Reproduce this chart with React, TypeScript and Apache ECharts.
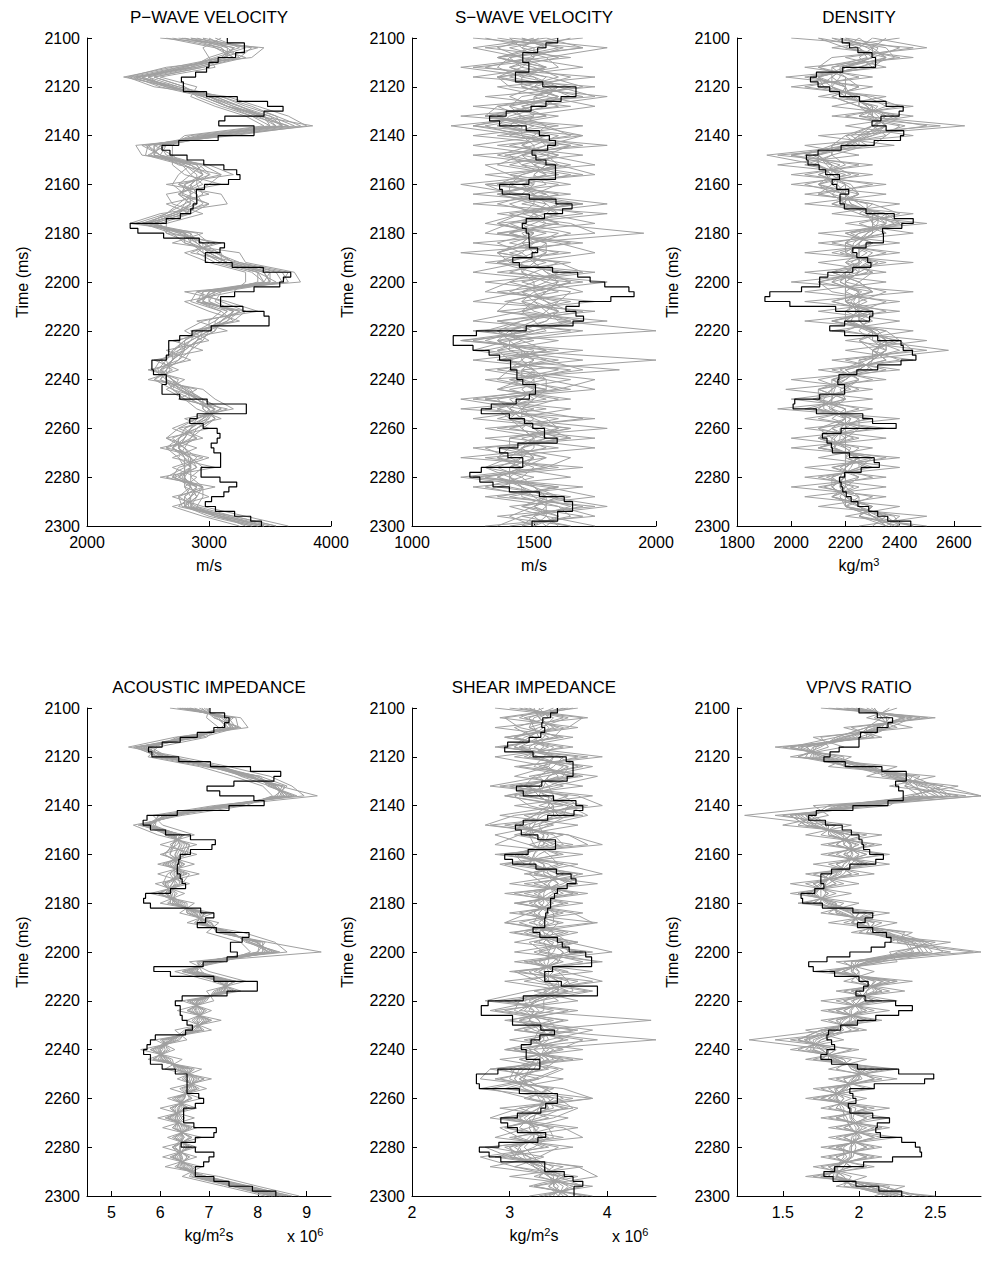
import React, { useEffect, useRef } from "react";
import * as echarts from "echarts";

// Sample times (ms): well logs every 2 ms, inversion realizations every 4 ms
const LOG_TIMES = Array.from({ length: 101 }, (_, i) => 2100 + 2 * i);
const SIM_TIMES = Array.from({ length: 51 }, (_, i) => 2100 + 4 * i);

// ---------- P-wave velocity (m/s) ----------
const VP_LOG = [
  3150, 3290, 3290, 3218, 3075, 3000, 2980, 2890, 2774, 2790,
  2790, 2980, 3232, 3480, 3607, 3451, 3130, 3080, 3369, 3369,
  3075, 2752, 2615, 2680, 2820, 2957, 3122, 3227, 3254, 3160,
  2963, 2897, 2900, 2900, 2870, 2850, 2765, 2650, 2354, 2417,
  2628, 2920, 3127, 3090, 2970, 2970, 3190, 3445, 3670, 3610,
  3580, 3369, 3210, 3095, 3095, 3278, 3451, 3492, 3492, 3018,
  2861, 2760, 2670, 2670, 2670, 2650, 2532, 2532, 2545, 2650,
  2650, 2615, 2615, 2760, 2985, 3306, 3306, 2903, 2842, 2952,
  3067, 3090, 3067, 3018, 3040, 3095, 3095, 3095, 2935, 2935,
  3090, 3227, 3163, 3122, 3021, 2970, 3053, 3210, 3342, 3430,
  3430,
];
const VP_SIMS = [
  [2780, 3210, 3120, 2760, 2420, 2650, 3050, 3260, 3420, 3650, 3050, 2480, 2600, 2920, 3010, 2800, 2780, 2900, 2700, 2450, 2760, 2950, 3080, 3200, 3500, 3450, 2950, 2900, 3250, 3150, 2950, 2800, 2720, 2650, 2580, 2700, 2820, 2950, 3100, 2950, 2800, 2760, 2700, 2800, 2900, 2720, 2850, 2800, 2870, 3150, 3500],
  [2650, 3050, 3200, 2900, 2380, 2600, 2950, 3150, 3500, 3700, 3100, 2600, 2520, 2800, 2900, 2900, 2950, 2800, 2650, 2400, 2850, 2850, 2950, 3100, 3400, 3550, 3050, 3000, 3150, 3050, 3050, 2900, 2850, 2750, 2650, 2550, 2700, 2850, 3000, 3050, 2900, 2850, 2800, 2900, 2800, 2650, 2950, 2900, 2800, 3050, 3400],
  [2950, 3300, 3050, 2800, 2500, 2750, 3100, 3300, 3550, 3600, 2950, 2500, 2480, 2780, 2850, 2750, 2900, 2950, 2800, 2550, 2700, 2800, 3050, 3250, 3550, 3600, 3100, 2900, 3300, 3200, 2900, 2800, 2700, 2650, 2680, 2600, 2750, 2950, 3100, 2900, 2850, 2750, 2650, 2750, 2800, 2800, 2850, 2750, 2780, 3200, 3550],
  [3000, 3150, 3250, 2950, 2550, 2800, 2950, 3150, 3400, 3550, 2900, 2600, 2650, 2950, 3100, 3000, 2850, 2750, 2650, 2500, 2900, 3000, 2900, 3050, 3350, 3450, 2900, 2850, 3100, 3000, 3000, 2950, 2850, 2800, 2600, 2700, 2800, 2950, 2950, 3050, 2950, 2850, 2700, 2850, 2950, 2850, 2950, 2950, 2900, 3050, 3350],
  [2850, 3400, 3100, 2700, 2300, 2700, 3000, 3200, 3400, 3850, 3100, 2450, 2600, 2850, 2750, 2700, 2800, 3000, 2850, 2600, 2650, 2850, 3050, 3200, 3600, 3650, 3000, 2950, 3250, 3100, 2950, 2750, 2800, 2600, 2550, 2650, 2700, 2800, 3050, 2900, 2750, 2650, 2800, 2850, 2850, 2800, 2800, 2850, 2750, 3100, 3450],
  [2700, 3100, 3150, 2850, 2450, 2700, 2950, 3150, 3450, 3500, 3050, 2650, 2500, 2850, 3000, 2900, 2750, 2850, 2700, 2450, 2800, 2950, 2950, 3100, 3400, 3400, 3100, 3050, 3200, 3150, 3000, 2850, 2700, 2700, 2650, 2650, 2850, 2900, 3000, 3000, 2800, 2900, 2750, 2800, 2850, 2700, 2900, 2850, 2850, 3100, 3300],
  [2900, 3200, 3100, 2800, 2400, 2750, 3050, 3250, 3500, 3600, 2950, 2550, 2550, 2900, 2950, 2850, 2900, 2900, 2800, 2550, 2750, 2900, 3000, 3150, 3450, 3500, 2950, 2950, 3200, 3100, 3050, 2900, 2800, 2700, 2600, 2700, 2750, 2900, 3050, 2950, 2850, 2800, 2750, 2850, 2900, 2750, 2900, 2800, 2800, 3100, 3450],
  [2800, 3100, 3200, 2900, 2500, 2650, 3000, 3150, 3350, 3650, 3000, 2550, 2700, 2800, 2950, 2800, 2850, 2800, 2750, 2500, 2850, 2900, 3000, 3150, 3500, 3500, 3050, 2900, 3150, 3050, 2900, 2850, 2750, 2700, 2650, 2600, 2800, 2900, 3050, 3000, 2900, 2750, 2750, 2800, 2800, 2800, 2850, 2900, 2850, 3050, 3400],
  [3050, 3250, 3000, 2850, 2450, 2700, 3000, 3250, 3450, 3550, 3000, 2600, 2550, 2900, 2950, 2850, 2750, 2850, 2750, 2500, 2800, 2850, 2950, 3150, 3450, 3500, 3000, 3000, 3200, 3100, 2950, 2900, 2800, 2700, 2600, 2700, 2800, 2850, 3000, 2950, 2850, 2800, 2700, 2850, 2850, 2750, 2950, 2850, 2800, 3150, 3450],
  [2850, 3150, 3150, 2850, 2400, 2700, 3000, 3200, 3450, 3600, 3000, 2550, 2550, 2850, 2950, 2850, 2850, 2850, 2750, 2500, 2800, 2900, 3000, 3150, 3450, 3500, 3000, 2950, 3200, 3100, 3000, 2850, 2780, 2700, 2620, 2650, 2770, 2900, 3040, 2980, 2850, 2800, 2750, 2830, 2850, 2780, 2900, 2850, 2830, 3100, 3450],
  [2600, 3450, 3350, 2650, 2330, 2550, 3150, 3400, 3650, 3800, 3200, 2400, 2450, 3000, 3200, 2650, 3100, 3150, 2600, 2350, 2950, 2700, 3250, 3300, 3700, 3750, 2800, 3150, 3400, 2900, 3150, 2700, 2950, 2550, 2750, 2500, 2950, 3050, 3200, 2800, 3000, 2650, 2900, 2700, 3050, 2600, 3050, 2700, 2950, 3300, 3650],
  [3100, 2950, 3000, 3050, 2600, 2900, 2850, 3050, 3300, 3450, 2800, 2700, 2700, 2700, 2800, 3100, 2650, 2700, 2950, 2650, 2650, 3100, 2800, 3000, 3300, 3300, 3200, 2800, 3000, 3250, 2850, 3000, 2650, 2850, 2500, 2800, 2650, 2800, 2900, 3100, 2750, 2950, 2600, 2950, 2700, 2900, 2800, 3000, 2700, 2950, 3250],
  [2750, 3350, 3250, 2750, 2350, 2650, 3100, 3350, 3550, 3750, 3150, 2500, 2600, 2750, 3100, 2750, 3000, 2650, 2850, 2450, 2700, 3050, 2850, 3250, 3650, 3600, 2900, 3100, 3300, 2950, 2800, 2950, 2750, 2600, 2700, 2550, 2900, 2750, 3150, 2900, 2700, 2900, 2650, 3000, 2750, 2700, 2950, 2750, 2900, 3200, 3550],
  [2950, 3050, 3300, 2950, 2550, 2800, 2900, 3100, 3350, 3500, 2850, 2650, 2600, 2950, 2850, 2950, 2750, 3000, 2700, 2550, 2800, 2800, 3100, 3100, 3400, 3450, 3050, 2900, 3100, 3200, 2900, 2800, 2800, 2750, 2550, 2750, 2700, 2950, 2950, 3050, 2900, 2700, 2800, 2750, 2850, 2850, 2850, 2900, 2800, 3000, 3350],
];

// ---------- S-wave velocity (m/s) ----------
const VS_LOG = [
  1597, 1549, 1515, 1454, 1454, 1479, 1479, 1424, 1424, 1536,
  1672, 1672, 1611, 1549, 1488, 1386, 1318, 1359, 1468, 1522,
  1563, 1588, 1556, 1492, 1508, 1549, 1588, 1588, 1588, 1479,
  1359, 1370, 1481, 1590, 1656, 1617, 1543, 1468, 1452, 1468,
  1479, 1481, 1481, 1515, 1492, 1413, 1440, 1576, 1679, 1730,
  1790, 1889, 1910, 1815, 1685, 1631, 1672, 1703, 1660, 1468,
  1264, 1169, 1169, 1250, 1316, 1359, 1404, 1404, 1430, 1430,
  1454, 1506, 1506, 1481, 1427, 1325, 1284, 1399, 1461, 1495,
  1543, 1543, 1595, 1434, 1359, 1393, 1454, 1454, 1284, 1237,
  1278, 1332, 1399, 1522, 1624, 1658, 1658, 1597, 1597, 1492,
  1492,
];
const VS_SIMS = [
  [1350, 1620, 1480, 1300, 1560, 1700, 1450, 1400, 1550, 1300, 1450, 1700, 1380, 1600, 1450, 1350, 1600, 1450, 1700, 1350, 1550, 1400, 1600, 1350, 1650, 1450, 1600, 1380, 1700, 1450, 1300, 1500, 1300, 1600, 1350, 1650, 1400, 1550, 1300, 1600, 1400, 1650, 1350, 1550, 1300, 1500, 1350, 1650, 1450, 1700, 1400],
  [1600, 1400, 1550, 1600, 1350, 1500, 1700, 1350, 1300, 1550, 1650, 1400, 1600, 1450, 1700, 1300, 1400, 1650, 1450, 1600, 1350, 1650, 1400, 1550, 1400, 1700, 1350, 1650, 1450, 1700, 1500, 1250, 1550, 1350, 1600, 1400, 1650, 1300, 1500, 1350, 1650, 1450, 1550, 1350, 1550, 1300, 1600, 1400, 1700, 1450, 1650],
  [1450, 1550, 1350, 1500, 1600, 1450, 1600, 1550, 1400, 1350, 1600, 1500, 1350, 1550, 1500, 1550, 1350, 1500, 1600, 1450, 1650, 1500, 1350, 1600, 1500, 1600, 1450, 1550, 1650, 1350, 1500, 1400, 1450, 1550, 1700, 1400, 1500, 1450, 1350, 1550, 1600, 1400, 1400, 1550, 1450, 1350, 1500, 1550, 1450, 1600, 1550],
  [1550, 1700, 1400, 1350, 1450, 1650, 1500, 1600, 1300, 1500, 1400, 1650, 1550, 1400, 1650, 1450, 1550, 1400, 1500, 1600, 1400, 1550, 1500, 1400, 1600, 1550, 1700, 1450, 1500, 1650, 1350, 1450, 1350, 1400, 1500, 1550, 1350, 1600, 1450, 1450, 1550, 1650, 1300, 1400, 1500, 1450, 1300, 1500, 1650, 1500, 1450],
  [1400, 1450, 1600, 1400, 1500, 1550, 1650, 1450, 1500, 1250, 1500, 1550, 1450, 1650, 1400, 1500, 1450, 1700, 1400, 1550, 1950, 1450, 1550, 1450, 1450, 1500, 1400, 1600, 1550, 1600, 2000, 1350, 1450, 1500, 1400, 1350, 1550, 1400, 1450, 1500, 1450, 1500, 1500, 1450, 1350, 1450, 1500, 1600, 1500, 1550, 1600],
  [1500, 1350, 1450, 1550, 1400, 1600, 1550, 1350, 1450, 1400, 1550, 1450, 1600, 1500, 1600, 1350, 1550, 1600, 1550, 1400, 1500, 1350, 1450, 1500, 1550, 1650, 1500, 1450, 1600, 1550, 1450, 1300, 1500, 1450, 1400, 1500, 1450, 1500, 1350, 1400, 1500, 1600, 1450, 1500, 1400, 1400, 1450, 1450, 1600, 1650, 1450],
  [1300, 1500, 1500, 1450, 1650, 1500, 1400, 1500, 1350, 1500, 1700, 1550, 1400, 1450, 1550, 1400, 1400, 1600, 1500, 1550, 1450, 1500, 1450, 1350, 1500, 1400, 1550, 1500, 1450, 1500, 1550, 1350, 1400, 2000, 1450, 1550, 1550, 1500, 1450, 1400, 1450, 1500, 1400, 1350, 1450, 1350, 1450, 1500, 1550, 1500, 1550],
  [1650, 1500, 1350, 1550, 1450, 1450, 1600, 1450, 1550, 1160, 1450, 1500, 1500, 1550, 1500, 1500, 1350, 1550, 1600, 1500, 1400, 1550, 1550, 1500, 1450, 1550, 1450, 1500, 1550, 1500, 1400, 1450, 1550, 1400, 1500, 1450, 1600, 1350, 1400, 1500, 1600, 1500, 1450, 1400, 1300, 1400, 1400, 1600, 1500, 1400, 1500],
  [1450, 1600, 1400, 1450, 1350, 1600, 1500, 1500, 1350, 1450, 1450, 1600, 1450, 1500, 1550, 1450, 1500, 1500, 1450, 1350, 1500, 1450, 1350, 1400, 1600, 1500, 1500, 1550, 1600, 1450, 1350, 1400, 1400, 1500, 1450, 1450, 1500, 1450, 1400, 1450, 1500, 1550, 1450, 1500, 1450, 1400, 1500, 1550, 1500, 1600, 1500],
  [1520, 1450, 1500, 1400, 1550, 1500, 1600, 1400, 1450, 1550, 1500, 1450, 1550, 1600, 1450, 1400, 1500, 1550, 1500, 1450, 1500, 1450, 1500, 1500, 1550, 1600, 1550, 1500, 1600, 1550, 1400, 1350, 1450, 1450, 1500, 1500, 1500, 1450, 1400, 1450, 1500, 1550, 1450, 1450, 1400, 1400, 1450, 1550, 1550, 1550, 1500],
  [1250, 1700, 1350, 1550, 1250, 1750, 1300, 1650, 1200, 1700, 1350, 1800, 1250, 1600, 1750, 1300, 1650, 1250, 1800, 1400, 1300, 1700, 1200, 1650, 1350, 1800, 1450, 1250, 1750, 1350, 1650, 1200, 1700, 1350, 1850, 1300, 1550, 1250, 1650, 1400, 1800, 1300, 1600, 1200, 1700, 1250, 1600, 1350, 1750, 1350, 1650],
  [1700, 1300, 1650, 1250, 1750, 1350, 1550, 1750, 1450, 1250, 1700, 1350, 1700, 1300, 1400, 1650, 1250, 1700, 1350, 1650, 1750, 1250, 1650, 1300, 1750, 1400, 1300, 1750, 1350, 1800, 1250, 1600, 1350, 1700, 1300, 1550, 1750, 1300, 1550, 1250, 1650, 1400, 1750, 1300, 1600, 1250, 1700, 1300, 1600, 1750, 1300],
  [1400, 1800, 1550, 1200, 1500, 1600, 1750, 1250, 1600, 1350, 1550, 1250, 1550, 1750, 1300, 1600, 1500, 1350, 1550, 1750, 1350, 1600, 1750, 1450, 1250, 1650, 1550, 1400, 1350, 1650, 1500, 1200, 1600, 1250, 1650, 1450, 1350, 1650, 1200, 1750, 1300, 1550, 1400, 1650, 1550, 1200, 1550, 1750, 1400, 1550, 1750],
  [1550, 1250, 1450, 1700, 1350, 1400, 1800, 1500, 1300, 1600, 1250, 1650, 1450, 1350, 1600, 1200, 1450, 1800, 1450, 1300, 1600, 1500, 1350, 1600, 1700, 1300, 1650, 1600, 1450, 1250, 1700, 1400, 1250, 1550, 1400, 1750, 1600, 1200, 1450, 1700, 1350, 1750, 1250, 1500, 1400, 1650, 1250, 1550, 1800, 1450, 1350],
];

// ---------- Density (kg/m3) ----------
const RHO_LOG = [
  2188, 2215, 2246, 2298, 2311, 2311, 2190, 2093, 2071, 2099,
  2142, 2178, 2252, 2350, 2413, 2398, 2331, 2298, 2350, 2415,
  2403, 2306, 2184, 2099, 2056, 2062, 2103, 2127, 2178, 2151,
  2168, 2212, 2180, 2180, 2196, 2276, 2380, 2450, 2408, 2337,
  2340, 2340, 2276, 2227, 2242, 2282, 2294, 2227, 2135, 2105,
  2105, 2038, 1921, 1903, 1995, 2164, 2301, 2289, 2197, 2142,
  2197, 2319, 2405, 2413, 2447, 2460, 2405, 2319, 2242, 2176,
  2172, 2197, 2197, 2105, 2013, 2007, 2093, 2264, 2300, 2387,
  2184, 2115, 2132, 2148, 2152, 2215, 2306, 2325, 2258, 2197,
  2178, 2184, 2190, 2203, 2221, 2246, 2286, 2319, 2356, 2441,
  2441,
];
const RHO_SIMS = [
  [2150, 2350, 2380, 2250, 2100, 2120, 2280, 2350, 2250, 2420, 2300, 2150, 2050, 2180, 2100, 2220, 2250, 2180, 2350, 2400, 2220, 2300, 2180, 2320, 2250, 2100, 2300, 2200, 2300, 2150, 2350, 2400, 2300, 2350, 2200, 2250, 2100, 2200, 2080, 2280, 2150, 2230, 2100, 2300, 2150, 2250, 2120, 2250, 2200, 2380, 2400],
  [2300, 2250, 2280, 2150, 2200, 2250, 2150, 2250, 2380, 2300, 2220, 2280, 2150, 2080, 2200, 2100, 2150, 2280, 2280, 2300, 2350, 2200, 2280, 2220, 2300, 2250, 2200, 2280, 2200, 2280, 2250, 2300, 2400, 2250, 2300, 2150, 2220, 2080, 2200, 2150, 2250, 2100, 2220, 2200, 2280, 2130, 2230, 2150, 2300, 2250, 2350],
  [2100, 2300, 2250, 2300, 2080, 2200, 2180, 2320, 2280, 2500, 2250, 2200, 2000, 2150, 2220, 2050, 2200, 2200, 2280, 2420, 2250, 2200, 2300, 2250, 2150, 2250, 2300, 2150, 2300, 2250, 2300, 2250, 2350, 2280, 2180, 2250, 2180, 2200, 2150, 2200, 2100, 2150, 2200, 2250, 2180, 2250, 2200, 2180, 2200, 2300, 2450],
  [2250, 2200, 2400, 2150, 2150, 2100, 2250, 2250, 2350, 2300, 2350, 2150, 2150, 2200, 2100, 2200, 2250, 2150, 2350, 2300, 2300, 2250, 2200, 2300, 2280, 2150, 2250, 2250, 2200, 2200, 2280, 2380, 2300, 2300, 2280, 2100, 2200, 2150, 2100, 2250, 2250, 2200, 2100, 2300, 2250, 2150, 2200, 2250, 2250, 2350, 2300],
  [2200, 2400, 2300, 2100, 2200, 2200, 2200, 2300, 2250, 2640, 2200, 2250, 1910, 2100, 2180, 2150, 2100, 2300, 2250, 2350, 2200, 2300, 2250, 2200, 2250, 2200, 2200, 2200, 2350, 2150, 2300, 2300, 2580, 2250, 2250, 2200, 2100, 2100, 2200, 2200, 2150, 2100, 2200, 2200, 2200, 2200, 2150, 2200, 2300, 2250, 2400],
  [2350, 2300, 2350, 2250, 2100, 2150, 2200, 2300, 2300, 2350, 2250, 2200, 2100, 2100, 2150, 2200, 2200, 2200, 2300, 2380, 2250, 2200, 2200, 2300, 2200, 2200, 2350, 2250, 2250, 2250, 2300, 2350, 2300, 2350, 2200, 2250, 2200, 2150, 2150, 2250, 2200, 2200, 2150, 2250, 2200, 2200, 2150, 2200, 2200, 2300, 2350],
  [2150, 2250, 2300, 2200, 2150, 2150, 2250, 2250, 2300, 2350, 2300, 2200, 2100, 2100, 2150, 2100, 2200, 2250, 2300, 2300, 2300, 2250, 2250, 2250, 2200, 2150, 2250, 2200, 2250, 2200, 2300, 2350, 2350, 2300, 2250, 2200, 2150, 2150, 2100, 2200, 2200, 2150, 2150, 2250, 2200, 2200, 2200, 2150, 2250, 2300, 2350],
  [2250, 2300, 2300, 2200, 2150, 2200, 2200, 2300, 2350, 2300, 2250, 2250, 2100, 2150, 2150, 2200, 2150, 2200, 2350, 2350, 2300, 2250, 2250, 2250, 2250, 2200, 2200, 2200, 2250, 2250, 2300, 2300, 2350, 2300, 2250, 2150, 2150, 2100, 2150, 2200, 2150, 2200, 2200, 2250, 2250, 2150, 2150, 2200, 2200, 2350, 2400],
  [2200, 2280, 2350, 2200, 2100, 2200, 2220, 2280, 2320, 2350, 2280, 2220, 2080, 2150, 2130, 2150, 2200, 2220, 2300, 2350, 2280, 2250, 2220, 2280, 2220, 2180, 2250, 2230, 2250, 2200, 2320, 2350, 2350, 2300, 2250, 2200, 2150, 2120, 2120, 2220, 2180, 2180, 2160, 2250, 2200, 2180, 2180, 2200, 2250, 2300, 2380],
  [2180, 2320, 2300, 2180, 2180, 2150, 2230, 2280, 2300, 2320, 2270, 2200, 2100, 2130, 2170, 2170, 2200, 2220, 2320, 2320, 2280, 2230, 2220, 2260, 2200, 2180, 2260, 2220, 2240, 2220, 2300, 2330, 2320, 2300, 2250, 2180, 2160, 2150, 2140, 2220, 2200, 2160, 2160, 2240, 2220, 2190, 2180, 2200, 2250, 2320, 2370],
  [2000, 2450, 2200, 2350, 1980, 2300, 2100, 2450, 2150, 2550, 2100, 2380, 1950, 2300, 2000, 2350, 2050, 2400, 2150, 2500, 2100, 2400, 2050, 2450, 2050, 2350, 2050, 2400, 2100, 2400, 2150, 2500, 2200, 2450, 2100, 2350, 1980, 2300, 1950, 2400, 2050, 2350, 2000, 2400, 2050, 2350, 2000, 2350, 2100, 2500, 2250],
  [2400, 2150, 2450, 2050, 2300, 2000, 2350, 2150, 2450, 2200, 2450, 2050, 2250, 1950, 2300, 2000, 2350, 2050, 2450, 2200, 2450, 2100, 2400, 2100, 2350, 2000, 2450, 2050, 2400, 2050, 2450, 2200, 2500, 2150, 2400, 2000, 2300, 2000, 2300, 2050, 2350, 2000, 2300, 2100, 2400, 2050, 2350, 2050, 2400, 2200, 2500],
  [2300, 2500, 2150, 2100, 2250, 2050, 2300, 2400, 2200, 2400, 2350, 2300, 2000, 2250, 2050, 2300, 2100, 2300, 2400, 2250, 2350, 2150, 2350, 2200, 2300, 2100, 2150, 2350, 2250, 2300, 2200, 2400, 2450, 2200, 2350, 2150, 2250, 2100, 2250, 2100, 2300, 2100, 2250, 2200, 2300, 2100, 2250, 2150, 2300, 2250, 2450],
  [2100, 2200, 2350, 2300, 2050, 2250, 2150, 2250, 2400, 2300, 2200, 2150, 2150, 2050, 2250, 2100, 2250, 2150, 2250, 2400, 2200, 2300, 2150, 2350, 2150, 2250, 2300, 2150, 2300, 2150, 2350, 2250, 2300, 2400, 2150, 2300, 2100, 2200, 2050, 2300, 2100, 2250, 2100, 2350, 2150, 2300, 2100, 2300, 2200, 2400, 2350],
];

// ---------- Acoustic impedance (x 10^6 kg/m2s) ----------
const AI_LOG = [
  7.02, 7.32, 7.41, 7.32, 7.10, 6.76, 6.41, 6.04, 5.76, 5.83,
  6.38, 7.03, 7.85, 8.47, 8.33, 7.51, 6.96, 7.22, 7.92, 8.13,
  7.41, 6.35, 5.73, 5.65, 5.80, 6.11, 6.62, 7.13, 7.06, 6.62,
  6.41, 6.38, 6.35, 6.35, 6.41, 6.45, 6.52, 6.21, 5.70, 5.66,
  5.80, 6.83, 7.10, 6.93, 6.76, 7.15, 7.82, 7.68, 7.44, 7.44,
  7.58, 7.37, 6.88, 5.87, 6.21, 7.10, 7.99, 7.99, 7.37, 6.45,
  6.31, 6.41, 6.41, 6.45, 6.55, 6.66, 6.52, 5.90, 5.80, 5.73,
  5.66, 5.80, 5.80, 6.04, 6.31, 6.55, 6.55, 6.55, 6.55, 6.79,
  6.89, 6.72, 6.48, 6.48, 6.48, 6.69, 7.15, 7.10, 6.72, 6.43,
  6.72, 7.10, 7.00, 6.89, 6.72, 6.72, 7.10, 7.41, 7.89, 8.37,
  8.37,
];
const AI_SIMS = [
  [6.45, 7.40, 7.55, 6.50, 5.55, 6.20, 7.25, 7.90, 8.30, 8.70, 7.30, 6.05, 5.85, 6.40, 6.30, 6.20, 6.45, 6.20, 6.35, 6.00, 6.45, 6.60, 7.00, 7.25, 8.10, 8.10, 6.85, 6.70, 7.50, 7.20, 6.85, 6.60, 7.00, 6.55, 6.30, 5.85, 6.15, 6.35, 6.80, 6.50, 6.60, 6.25, 6.40, 6.30, 6.60, 6.30, 6.55, 6.40, 6.90, 7.70, 8.60],
  [6.80, 7.20, 7.35, 6.75, 5.45, 6.00, 7.00, 7.75, 8.50, 8.40, 7.60, 6.20, 5.60, 6.20, 6.55, 6.45, 6.15, 6.50, 6.15, 6.25, 6.20, 6.85, 6.75, 7.40, 7.85, 8.35, 7.10, 6.50, 7.25, 7.40, 6.65, 6.85, 6.75, 6.80, 6.10, 6.05, 5.90, 6.60, 6.55, 6.70, 6.35, 6.50, 6.20, 6.55, 6.35, 6.55, 6.30, 6.60, 6.70, 7.55, 8.35],
  [6.55, 7.45, 7.30, 6.60, 5.80, 6.15, 7.15, 7.95, 8.45, 9.22, 7.35, 6.10, 5.80, 6.35, 6.25, 6.10, 6.40, 6.35, 6.40, 5.95, 6.40, 6.65, 6.95, 7.20, 8.05, 8.00, 6.90, 6.75, 7.40, 7.25, 6.80, 6.65, 6.95, 6.60, 6.35, 5.90, 6.10, 6.40, 6.75, 6.55, 6.50, 6.30, 6.35, 6.35, 6.50, 6.25, 6.45, 6.35, 6.85, 7.75, 8.55],
  [6.70, 7.25, 7.50, 6.55, 5.65, 6.05, 7.05, 7.80, 8.35, 8.55, 7.50, 6.25, 5.70, 6.25, 6.50, 6.40, 6.25, 6.40, 6.10, 6.20, 6.30, 6.80, 6.85, 7.35, 7.95, 8.30, 7.05, 6.55, 7.30, 7.35, 6.70, 6.80, 6.80, 6.75, 6.15, 6.00, 6.00, 6.55, 6.60, 6.65, 6.40, 6.45, 6.25, 6.50, 6.40, 6.50, 6.35, 6.55, 6.75, 7.60, 8.40],
  [6.35, 7.55, 7.60, 6.85, 5.50, 5.95, 7.20, 8.00, 8.25, 8.65, 7.20, 6.00, 5.75, 6.45, 6.35, 6.05, 6.50, 6.25, 6.45, 6.10, 6.50, 6.55, 7.05, 7.20, 8.20, 9.30, 6.80, 6.75, 7.55, 7.15, 6.90, 6.55, 7.05, 6.50, 6.25, 5.80, 6.20, 6.30, 6.90, 6.45, 6.65, 6.20, 6.45, 6.25, 6.65, 6.25, 6.60, 6.35, 6.95, 7.80, 8.70],
  [6.90, 7.15, 7.40, 6.70, 5.70, 6.10, 7.05, 7.70, 8.55, 8.45, 7.55, 6.30, 5.65, 6.15, 6.60, 6.50, 6.20, 6.45, 6.10, 6.30, 6.25, 6.90, 6.80, 7.45, 7.80, 8.25, 7.20, 6.45, 7.20, 7.45, 6.60, 6.90, 6.70, 6.85, 6.05, 6.10, 5.95, 6.65, 6.50, 6.75, 6.30, 6.55, 6.15, 6.60, 6.30, 6.60, 6.25, 6.65, 6.65, 7.50, 8.30],
  [6.60, 7.35, 7.45, 6.60, 5.60, 6.10, 7.10, 7.85, 8.40, 8.60, 7.40, 6.15, 5.75, 6.30, 6.40, 6.30, 6.35, 6.35, 6.25, 6.10, 6.35, 6.70, 6.90, 7.30, 8.00, 8.20, 6.95, 6.60, 7.35, 7.30, 6.75, 6.70, 6.90, 6.70, 6.20, 5.95, 6.05, 6.45, 6.70, 6.60, 6.45, 6.40, 6.30, 6.40, 6.45, 6.40, 6.40, 6.45, 6.80, 7.65, 8.45],
  [6.50, 7.30, 7.50, 6.70, 5.75, 6.00, 7.15, 7.85, 8.35, 8.50, 7.45, 6.10, 5.70, 6.25, 6.45, 6.35, 6.30, 6.30, 6.30, 6.15, 6.30, 6.75, 6.85, 7.30, 8.00, 8.15, 7.00, 6.65, 7.40, 7.30, 6.75, 6.75, 6.85, 6.65, 6.25, 6.00, 6.10, 6.50, 6.65, 6.55, 6.50, 6.35, 6.35, 6.45, 6.45, 6.40, 6.45, 6.50, 6.85, 7.60, 8.50],
  [6.95, 7.10, 7.65, 6.35, 5.90, 5.85, 6.90, 8.05, 8.20, 8.75, 7.25, 6.35, 5.55, 6.50, 6.20, 6.55, 6.05, 6.55, 6.05, 6.35, 6.15, 6.95, 6.70, 7.50, 7.75, 8.45, 6.75, 6.85, 7.15, 7.55, 6.55, 6.95, 6.65, 6.90, 6.00, 6.20, 5.85, 6.70, 6.45, 6.80, 6.25, 6.60, 6.10, 6.65, 6.25, 6.65, 6.20, 6.70, 6.60, 7.45, 8.25],
  [6.62, 7.31, 7.44, 6.62, 5.66, 6.07, 7.10, 7.85, 8.40, 8.54, 7.44, 6.14, 5.73, 6.28, 6.41, 6.31, 6.31, 6.35, 6.24, 6.11, 6.35, 6.72, 6.89, 7.31, 7.99, 8.20, 6.96, 6.62, 7.37, 7.31, 6.76, 6.72, 6.89, 6.69, 6.21, 5.97, 6.04, 6.48, 6.69, 6.59, 6.48, 6.38, 6.31, 6.41, 6.48, 6.41, 6.41, 6.48, 6.82, 7.65, 8.47],
  [6.20, 7.65, 7.80, 6.30, 5.35, 6.40, 7.40, 8.25, 8.70, 8.95, 7.10, 5.85, 6.05, 6.70, 6.00, 6.75, 5.95, 6.80, 5.90, 6.50, 6.00, 7.10, 6.55, 7.70, 8.35, 8.60, 6.60, 7.00, 7.75, 6.95, 7.10, 6.35, 7.25, 6.30, 6.55, 5.60, 6.45, 6.10, 7.05, 6.20, 6.85, 6.00, 6.70, 6.05, 6.85, 6.05, 6.75, 6.10, 7.20, 8.00, 8.85],
  [7.00, 6.95, 7.20, 6.95, 5.95, 5.75, 6.80, 7.50, 8.10, 8.30, 7.75, 6.45, 5.45, 5.95, 6.75, 6.00, 6.70, 5.95, 6.60, 5.80, 6.70, 6.40, 7.20, 6.95, 7.65, 7.85, 7.30, 6.30, 7.05, 7.65, 6.45, 7.05, 6.55, 7.05, 5.90, 6.30, 5.75, 6.85, 6.35, 6.95, 6.15, 6.75, 5.95, 6.75, 6.15, 6.75, 6.05, 6.85, 6.45, 7.30, 8.15],
  [6.40, 7.50, 7.25, 6.80, 5.50, 6.25, 6.95, 8.05, 8.60, 8.35, 7.60, 5.95, 5.90, 6.10, 6.60, 6.55, 6.10, 6.60, 6.45, 5.95, 6.55, 6.55, 7.05, 7.15, 8.15, 8.00, 7.15, 6.45, 7.55, 7.10, 6.95, 6.55, 7.05, 6.55, 6.40, 5.80, 6.25, 6.30, 6.90, 6.40, 6.65, 6.20, 6.50, 6.25, 6.65, 6.25, 6.60, 6.30, 6.95, 7.85, 8.65],
  [6.85, 7.10, 7.60, 6.45, 5.80, 5.90, 7.25, 7.65, 8.25, 8.80, 7.25, 6.35, 5.60, 6.45, 6.25, 6.20, 6.50, 6.15, 6.05, 6.25, 6.20, 6.90, 6.75, 7.45, 7.85, 8.40, 6.80, 6.75, 7.20, 7.50, 6.60, 6.90, 6.75, 6.85, 6.05, 6.15, 5.85, 6.65, 6.50, 6.75, 6.35, 6.55, 6.15, 6.60, 6.30, 6.60, 6.25, 6.65, 6.70, 7.50, 8.30],
];

// ---------- Shear impedance (x 10^6 kg/m2s) ----------
const SI_LOG = [
  3.49, 3.42, 3.34, 3.33, 3.36, 3.32, 3.20, 2.98, 2.95, 3.24,
  3.58, 3.65, 3.65, 3.65, 3.59, 3.33, 3.07, 3.14, 3.45, 3.68,
  3.75, 3.66, 3.39, 3.14, 3.06, 3.12, 3.29, 3.47, 3.47, 3.19,
  2.95, 3.03, 3.27, 3.48, 3.63, 3.68, 3.59, 3.49, 3.46, 3.42,
  3.42, 3.39, 3.37, 3.36, 3.36, 3.24, 3.31, 3.49, 3.54, 3.61,
  3.78, 3.84, 3.84, 3.44, 3.36, 3.36, 3.53, 3.90, 3.90, 3.14,
  2.78, 2.71, 2.71, 3.03, 3.03, 3.32, 3.46, 3.31, 3.22, 3.12,
  3.17, 3.17, 3.31, 3.31, 2.88, 2.66, 2.66, 2.69, 3.10, 3.49,
  3.49, 3.37, 3.32, 3.08, 2.91, 2.98, 3.08, 3.37, 3.29, 2.89,
  2.69, 2.79, 2.91, 3.36, 3.36, 3.56, 3.65, 3.75, 3.66, 3.66,
  3.66,
];
const SI_SIMS = [
  [3.10, 3.55, 3.20, 3.50, 2.90, 3.70, 3.30, 3.75, 3.00, 3.60, 3.30, 3.70, 2.95, 3.55, 3.20, 3.50, 3.05, 3.75, 3.25, 3.65, 3.10, 3.55, 3.20, 3.60, 3.25, 3.75, 3.20, 3.60, 3.15, 3.80, 2.95, 3.45, 3.00, 3.70, 3.15, 3.55, 3.10, 3.40, 2.85, 3.45, 3.15, 3.60, 2.90, 3.45, 3.05, 3.35, 2.85, 3.55, 3.25, 3.75, 3.35],
  [3.65, 3.15, 3.50, 3.05, 3.40, 3.15, 3.75, 3.20, 3.55, 3.10, 3.80, 3.15, 3.45, 3.05, 3.65, 2.95, 3.55, 3.25, 3.70, 3.15, 3.60, 3.10, 3.55, 3.05, 3.70, 3.30, 3.75, 3.10, 3.70, 3.35, 3.50, 2.95, 3.55, 3.15, 3.60, 3.05, 3.55, 2.90, 3.30, 2.95, 3.65, 3.10, 3.40, 2.95, 3.55, 2.80, 3.35, 3.05, 3.70, 3.25, 3.80],
  [3.30, 3.40, 3.05, 3.25, 3.35, 3.20, 3.60, 3.55, 3.10, 3.20, 3.60, 3.55, 3.25, 3.15, 3.50, 3.30, 3.20, 3.40, 3.60, 3.40, 3.25, 3.40, 3.30, 3.45, 3.35, 3.40, 3.50, 3.25, 3.60, 3.45, 3.20, 3.30, 3.20, 3.30, 4.50, 3.20, 3.35, 3.30, 3.10, 3.25, 3.45, 3.30, 3.25, 3.20, 3.25, 3.15, 3.25, 3.35, 3.40, 3.50, 3.45],
  [3.50, 3.30, 3.45, 3.15, 3.05, 3.55, 3.45, 3.30, 3.40, 3.45, 3.40, 3.25, 3.10, 3.40, 3.35, 3.05, 3.40, 3.55, 3.35, 3.50, 3.40, 3.30, 3.25, 3.35, 3.55, 3.60, 3.30, 3.45, 3.35, 3.60, 3.30, 3.10, 4.45, 3.30, 3.25, 3.40, 3.25, 3.20, 3.15, 3.10, 3.40, 3.45, 3.05, 3.30, 3.20, 3.10, 3.05, 3.25, 3.50, 3.40, 3.60],
  [3.25, 3.30, 3.40, 3.35, 3.20, 3.25, 3.55, 3.40, 3.30, 3.35, 3.65, 3.35, 3.20, 3.25, 3.45, 3.10, 3.35, 3.35, 3.50, 3.30, 3.30, 3.45, 3.45, 3.15, 3.45, 3.40, 3.40, 3.35, 3.50, 3.40, 3.05, 3.25, 3.20, 3.45, 3.30, 3.35, 3.45, 3.05, 3.00, 3.25, 3.30, 3.40, 3.20, 3.10, 3.35, 3.05, 3.20, 3.25, 3.40, 3.60, 3.50],
  [3.45, 3.20, 3.25, 3.30, 3.10, 3.45, 3.40, 3.50, 3.20, 3.30, 3.45, 3.45, 3.30, 3.35, 3.30, 3.25, 3.25, 3.50, 3.40, 3.35, 3.35, 3.25, 3.40, 3.30, 3.40, 3.55, 3.45, 3.30, 3.40, 3.50, 3.25, 3.20, 3.30, 3.35, 3.35, 3.25, 3.40, 3.15, 3.05, 3.15, 3.35, 3.30, 3.15, 3.25, 3.30, 3.00, 3.10, 3.30, 3.45, 3.45, 3.55],
  [2.85, 3.75, 3.60, 2.95, 3.55, 3.05, 3.85, 3.35, 2.80, 3.70, 3.95, 3.05, 2.75, 3.60, 3.80, 2.90, 3.55, 3.95, 3.15, 3.70, 3.05, 3.65, 3.85, 3.00, 3.60, 4.05, 3.15, 3.55, 3.95, 3.20, 2.75, 3.60, 3.10, 3.85, 3.40, 2.95, 3.75, 2.80, 2.70, 3.55, 3.85, 3.10, 2.80, 3.55, 3.75, 2.75, 3.00, 3.70, 3.90, 3.25, 3.75],
  [3.70, 2.95, 3.10, 3.55, 2.85, 3.80, 3.10, 3.90, 3.45, 2.95, 3.60, 3.80, 3.35, 2.85, 3.20, 3.55, 2.90, 3.30, 3.70, 3.05, 3.55, 3.20, 2.95, 3.70, 3.20, 3.35, 3.90, 3.05, 3.30, 3.85, 3.30, 2.80, 3.45, 3.05, 3.75, 3.50, 3.10, 3.55, 3.30, 2.80, 3.20, 3.70, 3.45, 2.90, 3.10, 3.40, 2.70, 3.05, 3.50, 3.75, 3.30],
  [3.20, 3.45, 3.35, 3.20, 3.05, 3.30, 3.60, 3.40, 3.35, 3.30, 3.45, 3.30, 3.25, 3.20, 3.40, 3.15, 3.35, 3.40, 3.50, 3.30, 3.40, 3.30, 3.35, 3.25, 3.50, 3.45, 3.35, 3.40, 3.40, 3.50, 3.15, 3.25, 3.20, 3.35, 3.30, 3.35, 3.30, 3.25, 3.10, 3.25, 3.35, 3.40, 3.20, 3.25, 3.25, 3.10, 3.15, 3.25, 3.40, 3.55, 3.50],
  [3.55, 3.25, 3.20, 3.40, 3.25, 3.45, 3.35, 3.60, 3.15, 3.40, 3.40, 3.50, 3.15, 3.35, 3.35, 3.25, 3.20, 3.50, 3.40, 3.45, 3.30, 3.40, 3.30, 3.35, 3.40, 3.55, 3.50, 3.30, 3.50, 3.50, 3.25, 3.15, 3.30, 3.35, 3.40, 3.25, 3.40, 3.10, 3.05, 3.15, 3.45, 3.30, 3.10, 3.25, 3.35, 3.00, 3.05, 3.35, 3.50, 3.45, 3.60],
  [3.00, 3.80, 2.85, 3.65, 3.10, 3.95, 3.05, 3.70, 2.90, 3.85, 3.05, 3.75, 2.80, 3.60, 3.95, 2.85, 3.70, 3.15, 3.90, 2.95, 3.75, 3.00, 3.90, 3.20, 3.70, 3.05, 3.95, 3.00, 3.85, 3.25, 3.70, 2.85, 3.60, 3.05, 3.90, 2.95, 3.65, 2.80, 3.55, 3.00, 3.85, 2.90, 3.60, 3.20, 2.85, 3.65, 2.90, 3.75, 3.00, 3.85, 3.20],
  [3.60, 2.90, 3.70, 2.95, 3.65, 2.85, 3.40, 3.05, 3.75, 2.95, 3.55, 2.90, 3.70, 3.10, 2.85, 3.75, 2.95, 3.65, 3.00, 3.80, 3.05, 3.75, 2.95, 3.55, 3.05, 3.85, 3.05, 3.85, 2.95, 3.60, 2.85, 3.70, 2.95, 3.65, 3.00, 3.75, 2.90, 3.50, 3.25, 2.70, 3.50, 3.65, 2.90, 3.70, 3.00, 3.50, 3.30, 2.80, 3.60, 3.20, 3.85],
  [3.35, 3.10, 3.55, 3.45, 2.95, 3.50, 3.70, 3.25, 3.15, 3.55, 3.70, 3.25, 3.05, 3.45, 3.55, 3.05, 3.15, 3.70, 3.55, 3.25, 3.45, 3.20, 3.50, 3.40, 3.30, 3.70, 3.25, 3.50, 3.60, 3.65, 3.10, 3.05, 3.40, 3.50, 3.20, 3.45, 3.30, 3.00, 3.15, 3.35, 3.55, 3.20, 3.05, 3.40, 3.45, 2.95, 3.20, 3.45, 3.30, 3.65, 3.40],
  [3.15, 3.60, 3.30, 3.05, 3.45, 3.35, 3.25, 3.65, 3.40, 3.05, 3.20, 3.60, 3.40, 3.20, 3.25, 3.40, 3.50, 3.20, 3.35, 3.55, 3.20, 3.50, 3.10, 3.45, 3.60, 3.25, 3.55, 3.20, 3.35, 3.45, 3.35, 3.35, 3.10, 3.25, 3.55, 3.15, 3.50, 3.35, 2.90, 3.40, 3.20, 3.55, 3.30, 2.95, 3.40, 3.25, 3.00, 3.35, 3.55, 3.40, 3.50],
];

// ---------- Vp/Vs ratio ----------
const VPVS_LOG = [
  2.00, 2.12, 2.22, 2.19, 2.12, 2.01, 2.00, 2.00, 1.87, 1.81,
  1.77, 1.91, 2.15, 2.31, 2.31, 2.24, 2.26, 2.29, 2.29, 2.19,
  1.96, 1.72, 1.67, 1.78, 1.89, 1.95, 2.00, 2.02, 2.03, 2.07,
  2.16, 2.11, 1.94, 1.82, 1.75, 1.75, 1.77, 1.71, 1.62, 1.63,
  1.76, 1.96, 2.09, 2.04, 1.99, 2.09, 2.18, 2.21, 2.17, 2.08,
  1.94, 1.79, 1.67, 1.70, 1.84, 2.00, 2.06, 2.03, 1.98, 2.04,
  2.24, 2.35, 2.26, 2.11, 1.99, 1.88, 1.80, 1.79, 1.82, 1.84,
  1.79, 1.75, 1.82, 1.99, 2.26, 2.49, 2.43, 2.10, 1.94, 1.96,
  1.98, 1.93, 1.94, 2.09, 2.20, 2.12, 2.11, 2.14, 2.28, 2.37,
  2.40, 2.41, 2.22, 2.03, 1.84, 1.77, 1.83, 1.98, 2.13, 2.28,
  2.28,
];
const VPVS_SIMS = [
  [1.90, 2.40, 2.05, 1.85, 1.55, 1.80, 2.10, 2.20, 2.55, 2.80, 2.05, 1.55, 1.65, 1.95, 1.85, 2.05, 1.85, 1.95, 1.70, 1.80, 1.70, 2.00, 1.95, 2.20, 2.30, 2.80, 2.10, 1.80, 2.25, 1.95, 2.10, 1.85, 2.05, 1.75, 1.60, 1.85, 1.75, 2.10, 1.90, 1.95, 1.75, 2.05, 1.85, 2.05, 1.90, 2.05, 1.85, 1.95, 1.75, 2.15, 2.40],
  [2.10, 2.15, 2.20, 2.00, 1.70, 1.65, 1.95, 2.35, 2.30, 2.40, 1.85, 1.25, 1.80, 1.80, 2.00, 1.85, 2.05, 1.75, 1.85, 1.65, 1.85, 1.85, 2.10, 2.05, 2.45, 2.30, 1.95, 1.95, 2.00, 2.15, 1.90, 2.05, 1.85, 1.90, 1.75, 1.65, 1.90, 1.95, 2.10, 1.80, 1.90, 1.85, 2.05, 1.90, 2.10, 1.85, 2.05, 1.80, 1.90, 1.95, 2.20],
  [1.95, 2.30, 2.05, 2.05, 1.60, 1.75, 2.05, 2.25, 2.45, 2.55, 2.00, 1.65, 1.70, 1.90, 1.90, 2.00, 1.95, 1.90, 1.80, 1.70, 1.80, 2.00, 1.95, 2.15, 2.40, 2.45, 2.05, 1.85, 2.15, 2.05, 2.05, 1.90, 2.00, 1.80, 1.28, 1.80, 1.80, 2.05, 1.95, 1.90, 1.80, 1.95, 1.95, 2.00, 1.95, 1.95, 1.95, 1.90, 1.85, 2.05, 2.30],
  [2.05, 2.20, 2.15, 1.90, 1.70, 1.70, 1.95, 2.30, 2.35, 2.50, 1.90, 1.65, 1.75, 1.85, 1.95, 1.90, 2.00, 1.80, 1.75, 1.75, 1.75, 1.90, 2.05, 2.10, 2.35, 2.40, 2.00, 1.95, 2.05, 2.10, 1.95, 2.00, 1.90, 1.85, 1.70, 1.70, 1.85, 2.00, 2.00, 1.85, 1.85, 1.90, 1.90, 1.95, 2.00, 1.90, 1.90, 1.85, 1.80, 2.00, 2.25],
  [2.00, 2.30, 2.10, 1.95, 1.65, 1.75, 2.00, 2.25, 2.40, 2.80, 1.95, 1.60, 1.70, 1.90, 1.95, 1.95, 1.90, 1.85, 1.75, 1.70, 1.80, 1.95, 2.00, 2.15, 2.35, 2.40, 2.05, 1.90, 2.10, 2.05, 2.00, 1.95, 1.95, 1.85, 1.65, 1.75, 1.85, 2.00, 2.00, 1.90, 1.85, 1.95, 1.95, 2.00, 2.00, 1.95, 1.95, 1.85, 1.85, 2.05, 2.30],
  [1.80, 2.45, 1.95, 2.10, 1.50, 1.90, 1.90, 2.40, 2.30, 2.65, 1.80, 1.70, 1.60, 2.05, 1.80, 2.15, 1.80, 2.00, 1.65, 1.85, 1.65, 2.10, 1.90, 2.30, 2.25, 2.60, 1.90, 2.00, 1.95, 2.20, 1.85, 2.10, 1.80, 2.00, 1.55, 1.95, 1.70, 2.20, 1.85, 2.05, 1.70, 2.10, 1.80, 2.15, 1.85, 2.10, 1.80, 2.05, 1.70, 2.20, 2.15],
  [2.20, 2.10, 2.25, 1.75, 1.80, 1.60, 2.15, 2.15, 2.55, 2.35, 2.10, 1.50, 1.85, 1.75, 2.10, 1.80, 2.10, 1.70, 1.90, 1.60, 1.90, 1.80, 2.15, 2.00, 2.50, 2.25, 2.15, 1.80, 2.25, 1.90, 2.15, 1.80, 2.10, 1.75, 1.80, 1.60, 1.95, 1.85, 2.15, 1.75, 1.95, 1.80, 2.10, 1.85, 2.15, 1.80, 2.10, 1.75, 1.95, 1.90, 2.45],
  [1.98, 2.28, 2.12, 1.92, 1.66, 1.72, 2.02, 2.27, 2.42, 2.52, 1.94, 1.62, 1.72, 1.88, 1.94, 1.96, 1.93, 1.86, 1.76, 1.72, 1.78, 1.94, 2.00, 2.13, 2.37, 2.42, 2.05, 1.89, 2.11, 2.05, 2.00, 1.94, 1.94, 1.83, 1.67, 1.76, 1.83, 2.02, 1.98, 1.89, 1.83, 1.94, 1.94, 1.98, 1.98, 1.94, 1.94, 1.85, 1.83, 2.05, 2.26],
  [2.08, 2.18, 2.18, 1.88, 1.72, 1.68, 1.92, 2.32, 2.38, 2.42, 1.88, 1.68, 1.78, 1.82, 1.98, 1.92, 2.02, 1.82, 1.78, 1.78, 1.74, 1.88, 2.06, 2.08, 2.32, 2.36, 1.98, 1.96, 2.04, 2.12, 1.96, 2.02, 1.88, 1.86, 1.72, 1.68, 1.86, 1.98, 2.02, 1.84, 1.86, 1.88, 1.92, 1.94, 2.02, 1.88, 1.92, 1.84, 1.80, 1.98, 2.22],
  [1.92, 2.34, 2.06, 1.98, 1.62, 1.78, 2.06, 2.22, 2.48, 2.58, 2.00, 1.58, 1.68, 1.94, 1.90, 2.00, 1.90, 1.88, 1.74, 1.68, 1.82, 2.00, 1.96, 2.18, 2.42, 2.48, 2.08, 1.84, 2.16, 2.00, 2.04, 1.90, 1.98, 1.80, 1.64, 1.80, 1.80, 2.04, 1.96, 1.92, 1.80, 1.98, 1.96, 2.02, 1.96, 1.98, 1.96, 1.86, 1.86, 2.10, 2.30],
  [1.75, 2.50, 1.90, 2.15, 1.45, 1.95, 1.80, 2.50, 2.20, 2.70, 1.70, 1.80, 1.50, 2.15, 1.75, 2.20, 1.70, 2.10, 1.55, 1.95, 1.60, 2.20, 1.80, 2.35, 2.20, 2.75, 1.85, 2.10, 1.90, 2.30, 1.75, 2.20, 1.75, 2.05, 1.45, 2.00, 1.65, 2.25, 1.80, 2.10, 1.65, 2.20, 1.75, 2.20, 1.80, 2.15, 1.75, 2.10, 1.65, 2.30, 2.10],
  [2.25, 2.05, 2.35, 1.70, 1.90, 1.55, 2.25, 2.05, 2.65, 2.30, 2.20, 1.45, 1.95, 1.65, 2.15, 1.75, 2.20, 1.65, 2.00, 1.55, 2.00, 1.75, 2.25, 1.95, 2.60, 2.20, 2.25, 1.70, 2.35, 1.85, 2.25, 1.75, 2.15, 1.65, 1.90, 1.55, 2.05, 1.80, 2.25, 1.70, 2.05, 1.75, 2.20, 1.80, 2.25, 1.75, 2.15, 1.70, 2.05, 1.85, 2.50],
  [1.85, 2.35, 2.20, 2.05, 1.55, 1.85, 2.05, 2.35, 2.50, 2.60, 2.05, 1.55, 1.65, 1.95, 1.85, 2.05, 1.85, 1.95, 1.70, 1.80, 1.70, 2.05, 1.95, 2.25, 2.45, 2.55, 2.15, 1.80, 2.20, 1.95, 2.10, 1.85, 2.05, 1.75, 1.60, 1.85, 1.75, 2.15, 1.90, 1.95, 1.75, 2.05, 1.85, 2.10, 1.90, 2.05, 1.85, 1.95, 1.75, 2.15, 2.35],
  [2.10, 2.15, 2.05, 1.85, 1.75, 1.60, 1.95, 2.20, 2.35, 2.45, 1.85, 1.70, 1.80, 1.80, 2.05, 1.90, 2.05, 1.75, 1.85, 1.65, 1.85, 1.85, 2.10, 2.05, 2.30, 2.35, 1.95, 2.00, 2.00, 2.15, 1.90, 2.05, 1.85, 1.95, 1.75, 1.70, 1.90, 1.95, 2.10, 1.85, 1.90, 1.85, 2.05, 1.90, 2.10, 1.85, 2.05, 1.80, 1.90, 1.95, 2.20],
];

// Axis tick values per panel
const VP_TICKS = [2000, 3000, 4000];
const VS_TICKS = [1000, 1500, 2000];
const RHO_TICKS = [1800, 2000, 2200, 2400, 2600];
const AI_TICKS = [5, 6, 7, 8, 9];
const SI_TICKS = [2, 3, 4];
const VPVS_TICKS = [1.5, 2, 2.5];

const PANELS = [
  { title: "P\u2212WAVE VELOCITY", log: VP_LOG, sims: VP_SIMS, min: 2000, max: 4000, ticks: VP_TICKS, unit: "{t|m/s}", exp: false },
  { title: "S\u2212WAVE VELOCITY", log: VS_LOG, sims: VS_SIMS, min: 1000, max: 2000, ticks: VS_TICKS, unit: "{t|m/s}", exp: false },
  { title: "DENSITY", log: RHO_LOG, sims: RHO_SIMS, min: 1800, max: 2700, ticks: RHO_TICKS, unit: "{t|kg/m}{sup|3}", exp: false },
  { title: "ACOUSTIC IMPEDANCE", log: AI_LOG, sims: AI_SIMS, min: 4.5, max: 9.5, ticks: AI_TICKS, unit: "{t|kg/m}{sup|2}{t|s}", exp: true },
  { title: "SHEAR IMPEDANCE", log: SI_LOG, sims: SI_SIMS, min: 2, max: 4.5, ticks: SI_TICKS, unit: "{t|kg/m}{sup|2}{t|s}", exp: true },
  { title: "VP/VS RATIO", log: VPVS_LOG, sims: VPVS_SIMS, min: 1.2, max: 2.8, ticks: VPVS_TICKS, unit: "", exp: false },
];

const FONT = '"Liberation Sans", Arial, Helvetica, sans-serif';
const FS = 16;
const TITLE_FS = 17;
const GRAY = "#a0a0a0";
const COL_LEFT = [87, 412, 737];
const ROW_TOP = [38, 708];
const PLOT_W = 244;
const PLOT_H = 488;
const UNIT_GAP = 30;

const RICH = {
  t: { fontFamily: FONT, fontSize: FS, color: "#000", lineHeight: 19, verticalAlign: "middle" },
  sup: { fontFamily: FONT, fontSize: 11, color: "#000", lineHeight: 10, verticalAlign: "top" },
};

// Staircase path of a blocked log: each value holds until the next sample time
function stairs(values: number[]): number[][] {
  const pts: number[][] = [];
  const n = Math.min(values.length, LOG_TIMES.length);
  for (let i = 0; i < n; i++) {
    pts.push([values[i], LOG_TIMES[i]]);
    if (i < n - 1) pts.push([values[i], LOG_TIMES[i + 1]]);
  }
  return pts;
}

const plain = (v: number) => String(v);

function buildOption() {
  const grid: any[] = [];
  const xAxis: any[] = [];
  const yAxis: any[] = [];
  const series: any[] = [];
  const graphic: any[] = [];

  PANELS.forEach((p, i) => {
    const left = COL_LEFT[i % 3];
    const top = ROW_TOP[Math.floor(i / 3)];
    grid.push({ left, top, width: PLOT_W, height: PLOT_H, containLabel: false });

    xAxis.push({
      gridIndex: i,
      type: "value",
      min: p.min,
      max: p.max,
      axisLine: { show: true, onZero: false, lineStyle: { color: "#000", width: 1 } },
      axisTick: { show: true, inside: true, length: 5, customValues: p.ticks, lineStyle: { color: "#000" } },
      axisLabel: { customValues: p.ticks, formatter: plain, color: "#000", fontSize: FS, fontFamily: FONT, margin: 8 },
      splitLine: { show: false },
      name: p.unit,
      nameLocation: "middle",
      nameGap: UNIT_GAP,
      nameTextStyle: { rich: RICH },
    });

    yAxis.push({
      gridIndex: i,
      type: "value",
      inverse: true,
      min: 2100,
      max: 2300,
      interval: 20,
      axisLine: { show: true, onZero: false, lineStyle: { color: "#000", width: 1 } },
      axisTick: { show: true, inside: true, length: 5, lineStyle: { color: "#000" } },
      axisLabel: { formatter: plain, color: "#000", fontSize: FS, fontFamily: FONT, margin: 7 },
      splitLine: { show: false },
      name: "Time (ms)",
      nameLocation: "middle",
      nameRotate: 90,
      nameGap: 57,
      nameTextStyle: { color: "#000", fontSize: FS, fontFamily: FONT },
    });

    p.sims.forEach((sim) => {
      series.push({
        type: "line",
        xAxisIndex: i,
        yAxisIndex: i,
        data: sim.slice(0, SIM_TIMES.length).map((v, k) => [v, SIM_TIMES[k]]),
        showSymbol: false,
        symbol: "none",
        silent: true,
        lineStyle: { color: GRAY, width: 1 },
        z: 2,
      });
    });

    series.push({
      type: "line",
      xAxisIndex: i,
      yAxisIndex: i,
      data: stairs(p.log),
      showSymbol: false,
      symbol: "none",
      silent: true,
      lineStyle: { color: "#000", width: 1.2 },
      z: 3,
    });

    graphic.push({
      type: "text",
      x: left + PLOT_W / 2,
      y: top - 21,
      style: { text: p.title, font: `${TITLE_FS}px ${FONT}`, fill: "#000", align: "center", verticalAlign: "middle" },
    });

    if (p.exp) {
      graphic.push({
        type: "text",
        x: left + PLOT_W - 44,
        y: top + PLOT_H + UNIT_GAP + 10,
        style: { text: "{t|x 10}{sup|6}", rich: RICH, align: "left", verticalAlign: "middle" },
      });
    }
  });

  return {
    animation: false,
    backgroundColor: "#fff",
    grid,
    xAxis,
    yAxis,
    series,
    graphic,
  };
}

export default function App() {
  const ref = useRef<HTMLDivElement>(null);
  useEffect(() => {
    if (!ref.current) return;
    const chart = echarts.init(ref.current, undefined, { renderer: "svg" });
    chart.setOption(buildOption() as any);
    return () => chart.dispose();
  }, []);
  return (
    <div
      ref={ref}
      style={{ position: "fixed", left: 0, top: 0, width: 982, height: 1263, background: "#fff" }}
    />
  );
}
